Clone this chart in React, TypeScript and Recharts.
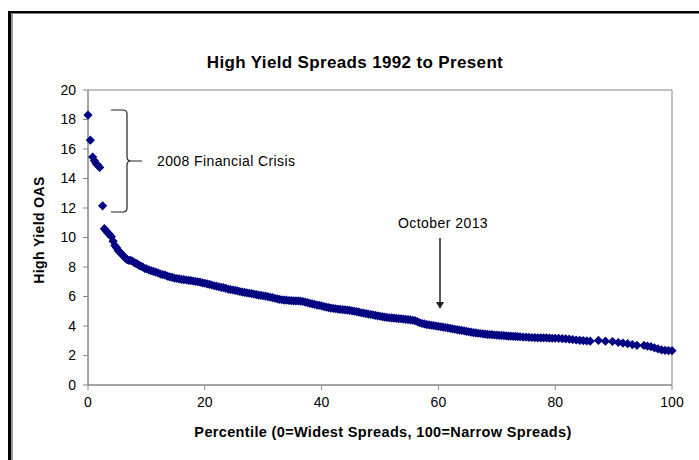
import React from "react";
import { ScatterChart, Scatter, XAxis, YAxis, ReferenceArea } from "recharts";

const pct: number[] = [
  0.0, 0.4, 0.8, 1.1, 1.4, 1.7, 2.0, 2.5, 2.8, 3.1, 3.4, 3.7, 4.0, 4.3, 4.6, 4.9,
  5.2, 5.5, 5.8, 6.1, 6.4, 6.7, 7.0, 7.3, 7.6, 7.9, 8.2, 8.5, 8.8, 9.1, 9.4, 9.7,
  10.0, 10.4, 10.8, 11.2, 11.6, 12.0, 12.4, 12.8, 13.2, 13.6, 14.0, 14.4, 14.8,
  15.2, 15.6, 16.0, 16.4, 16.8, 17.2, 17.6, 18.0, 18.4, 18.8, 19.2, 19.6,
  20.0, 20.4, 20.8, 21.2, 21.6, 22.0, 22.4, 22.8, 23.2, 23.6, 24.0, 24.4, 24.8,
  25.2, 25.6, 26.0, 26.4, 26.8, 27.2, 27.6, 28.0, 28.4, 28.8, 29.2, 29.6,
  30.0, 30.4, 30.8, 31.2, 31.6, 32.0, 32.4, 32.8, 33.2, 33.6, 34.0, 34.4, 34.8,
  35.2, 35.6, 36.0, 36.4, 36.8, 37.2, 37.6, 38.0, 38.4, 38.8, 39.2, 39.6,
  40.0, 40.4, 40.8, 41.2, 41.6, 42.0, 42.4, 42.8, 43.2, 43.6, 44.0, 44.4, 44.8,
  45.2, 45.6, 46.0, 46.4, 46.8, 47.2, 47.6, 48.0, 48.4, 48.8, 49.2, 49.6,
  50.0, 50.4, 50.8, 51.2, 51.6, 52.0, 52.4, 52.8, 53.2, 53.6, 54.0, 54.4, 54.8,
  55.2, 55.6, 56.0, 56.4, 56.8, 57.2, 57.6, 58.0, 58.4, 58.8, 59.2, 59.6,
  60.0, 60.4, 60.8, 61.2, 61.6, 62.0, 62.4, 62.8, 63.2, 63.6, 64.0, 64.4, 64.8,
  65.2, 65.6, 66.0, 66.4, 66.8, 67.2, 67.6, 68.0, 68.4, 68.8, 69.2, 69.6,
  70.0, 70.4, 70.8, 71.2, 71.6, 72.0, 72.4, 72.8, 73.2, 73.6, 74.0, 74.5,
  75.0, 75.5, 76.0, 76.5, 77.0, 77.5, 78.0, 78.5, 79.0, 79.5,
  80.0, 80.6, 81.2, 81.8, 82.4, 83.0, 83.6, 84.2, 84.8, 85.4, 86.0,
  87.4, 88.6, 89.8, 90.8, 91.6, 92.4, 93.2, 94.0, 95.2, 95.8, 96.4, 97.0,
  97.6, 98.2, 98.8, 99.4, 100.0,
];

const oas: number[] = [
  18.3, 16.6, 15.45, 15.2, 15.0, 14.9, 14.75, 12.15, 10.6, 10.45, 10.3, 10.2, 10.05, 9.75, 9.45, 9.3,
  9.1, 9.0, 8.85, 8.75, 8.6, 8.5, 8.45, 8.45, 8.4, 8.3, 8.25, 8.2, 8.1, 8.05, 8.0, 7.9,
  7.88, 7.8, 7.75, 7.7, 7.65, 7.6, 7.52, 7.48, 7.45, 7.38, 7.33, 7.3, 7.25,
  7.22, 7.2, 7.16, 7.15, 7.12, 7.1, 7.08, 7.05, 7.02, 7.0, 6.97, 6.92,
  6.9, 6.86, 6.82, 6.78, 6.73, 6.7, 6.66, 6.62, 6.6, 6.55, 6.5, 6.47, 6.44,
  6.42, 6.38, 6.34, 6.3, 6.28, 6.25, 6.22, 6.2, 6.17, 6.13, 6.1, 6.08,
  6.05, 6.02, 5.99, 5.95, 5.92, 5.88, 5.84, 5.8, 5.78, 5.76, 5.75, 5.73, 5.72,
  5.71, 5.7, 5.7, 5.68, 5.66, 5.62, 5.58, 5.54, 5.5, 5.46, 5.42, 5.4,
  5.36, 5.32, 5.28, 5.24, 5.21, 5.19, 5.17, 5.15, 5.13, 5.11, 5.1, 5.08, 5.06,
  5.03, 5.0, 4.97, 4.94, 4.9, 4.87, 4.84, 4.81, 4.78, 4.75, 4.72, 4.69,
  4.66, 4.63, 4.6, 4.58, 4.56, 4.55, 4.53, 4.52, 4.5, 4.49, 4.47, 4.45, 4.43,
  4.41, 4.39, 4.36, 4.3, 4.22, 4.17, 4.14, 4.1, 4.07, 4.05, 4.03, 4.0,
  3.98, 3.95, 3.93, 3.9, 3.87, 3.84, 3.81, 3.78, 3.75, 3.72, 3.7, 3.67, 3.64,
  3.61, 3.58, 3.55, 3.53, 3.51, 3.49, 3.47, 3.45, 3.43, 3.42, 3.41, 3.39,
  3.38, 3.37, 3.36, 3.35, 3.33, 3.32, 3.31, 3.3, 3.29, 3.28, 3.27, 3.25,
  3.24, 3.23, 3.22, 3.21, 3.2, 3.2, 3.2, 3.19, 3.18, 3.17,
  3.17, 3.16, 3.14, 3.13, 3.11, 3.08, 3.05, 3.03, 3.01, 2.99, 2.97,
  3.02, 2.97, 2.95, 2.88, 2.84, 2.8, 2.74, 2.69, 2.68, 2.63, 2.6, 2.52,
  2.45, 2.38, 2.35, 2.33, 2.33,
];

const xTicks = [0, 20, 40, 60, 80, 100];
const yTicks = [0, 2, 4, 6, 8, 10, 12, 14, 16, 18, 20];

const chartTitle = "High Yield Spreads 1992 to Present";
const xTitle = "Percentile (0=Widest Spreads, 100=Narrow Spreads)";
const yTitle = "High Yield OAS";
const crisisNote = "2008 Financial Crisis";
const octNote = "October 2013";

const data = pct.map((x, i) => ({ x, y: oas[i] }));

const FONT = "'Liberation Sans', Arial, sans-serif";
const AXIS = "#868686";
const NAVY = "#000080";

const Diamond = (props: any) => {
  const { cx, cy } = props;
  if (cx == null || cy == null) return null;
  const r = 4.6;
  return (
    <polygon
      points={`${cx},${cy - r} ${cx + r},${cy} ${cx},${cy + r} ${cx - r},${cy}`}
      fill={NAVY}
    />
  );
};

export default function App() {
  return (
    <div
      style={{
        position: "absolute",
        left: 0,
        top: 0,
        width: 699,
        height: 460,
        overflow: "hidden",
        background: "#fff",
      }}
    >
      <div style={{ position: "absolute", left: 0, top: 0 }}>
        <ScatterChart
          width={699}
          height={460}
          margin={{ top: 90, right: 27, bottom: 45, left: 28 }}
        >
          <XAxis
            type="number"
            dataKey="x"
            domain={[0, 100]}
            ticks={xTicks}
            interval={0}
            height={30}
            stroke={AXIS}
            tickSize={5}
            tickMargin={7}
            tick={{ fill: "#000", fontSize: 14, fontFamily: FONT }}
          />
          <YAxis
            type="number"
            dataKey="y"
            domain={[0, 20]}
            ticks={yTicks}
            interval={0}
            width={60}
            stroke={AXIS}
            tickSize={5}
            tickMargin={7}
            tick={{ fill: "#000", fontSize: 14, fontFamily: FONT }}
          />
          <ReferenceArea
            x1={0}
            x2={100}
            y1={0}
            y2={20}
            fill="none"
            fillOpacity={0}
            stroke={AXIS}
            strokeWidth={1}
          />
          <Scatter
            data={data}
            fill={NAVY}
            shape={Diamond}
            isAnimationActive={false}
          />
        </ScatterChart>
      </div>
      <svg
        width={699}
        height={460}
        style={{ position: "absolute", left: 0, top: 0, pointerEvents: "none" }}
      >
        {/* outer frame */}
        <rect x={8} y={11} width={3} height={449} fill="#000" />
        <rect x={8} y={11} width={691} height={2.5} fill="#000" />
        <rect x={11} y={13.5} width={2} height={447} fill="#9a9a9a" />

        <text
          x={355}
          y={68}
          textAnchor="middle"
          fontFamily={FONT}
          fontWeight="bold"
          fontSize={17}
          letterSpacing={0.35}
          fill="#000"
        >
          {chartTitle}
        </text>

        <text
          x={383}
          y={437}
          textAnchor="middle"
          fontFamily={FONT}
          fontWeight="bold"
          fontSize={14.5}
          letterSpacing={0.35}
          fill="#000"
        >
          {xTitle}
        </text>

        <text
          x={44}
          y={230}
          textAnchor="middle"
          transform="rotate(-90, 44, 230)"
          fontFamily={FONT}
          fontWeight="bold"
          fontSize={14}
          letterSpacing={0.4}
          fill="#000"
        >
          {yTitle}
        </text>

        {/* crisis bracket */}
        <path
          d="M111,110 L123,110 Q127,110 127,114 L127,157 Q127,161 131,161 L142,161 M131,161 Q127,161 127,165 L127,208 Q127,212 123,212 L111,212"
          fill="none"
          stroke="#222"
          strokeWidth={1.2}
        />
        <text
          x={157}
          y={166}
          fontFamily={FONT}
          fontSize={14}
          letterSpacing={0.4}
          fill="#000"
        >
          {crisisNote}
        </text>

        {/* October 2013 arrow */}
        <text
          x={443}
          y={228}
          textAnchor="middle"
          fontFamily={FONT}
          fontSize={14}
          letterSpacing={0.45}
          fill="#000"
        >
          {octNote}
        </text>
        <line x1={440} y1={238} x2={440} y2={303} stroke="#222" strokeWidth={1.5} />
        <polygon points="436,302 444,302 440,309" fill="#222" />
      </svg>
    </div>
  );
}
